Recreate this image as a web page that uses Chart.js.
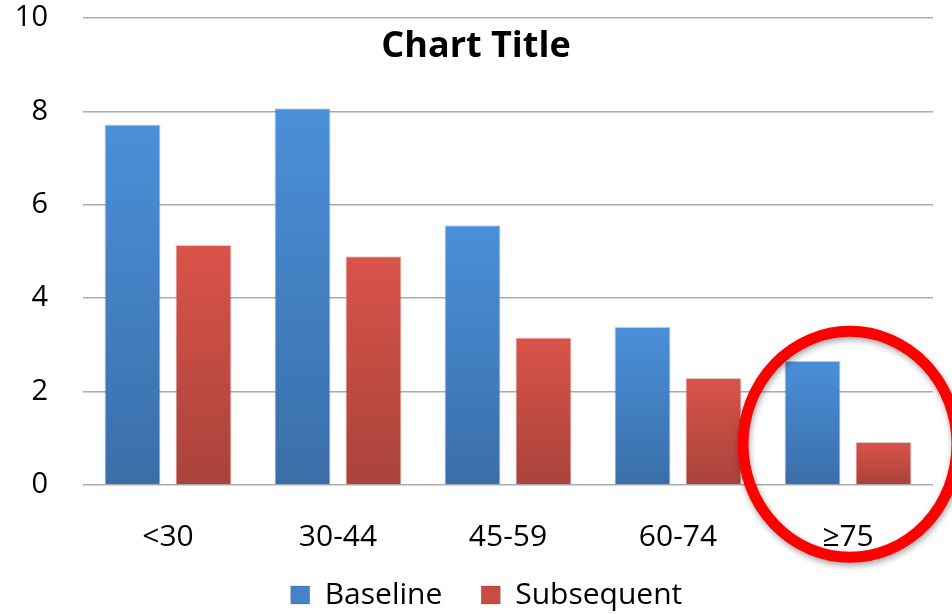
<!DOCTYPE html>
<html>
<head>
<meta charset="utf-8">
<title>Chart Title</title>
<script src="https://cdn.jsdelivr.net/npm/chart.js@4/dist/chart.umd.min.js"></script>
<style>
  html, body { margin: 0; padding: 0; background: #ffffff; }
  #wrap { width: 952px; height: 614px; }
</style>
</head>
<body>
<div id="wrap"><canvas id="chart" width="952" height="614"></canvas></div>
<script>
// Age groups and the two series
const categories = ['<30', '30-44', '45-59', '60-74', '≥75'];
const baselineValues = [7.72, 8.07, 5.56, 3.39, 2.66];
const subsequentValues = [5.14, 4.90, 3.16, 2.29, 0.92];
const yTickValues = [0, 2, 4, 6, 8, 10];
const seriesNames = ['Baseline', 'Subsequent'];
const chartTitle = 'Chart Title';
const highlightIndex = 4;      // the group that gets circled
const highlightCenterValue = 0.87;

const FONT = '"Open Sans", "Liberation Sans", sans-serif';

// vertical gradient from the top of each bar down to the zero line
function barGradient(topColor, bottomColor) {
  return (ctx) => {
    const chart = ctx.chart;
    const ys = chart.scales && chart.scales.y;
    if (!ys || ctx.type !== 'data' || !ctx.parsed) return topColor;
    const y0 = ys.getPixelForValue(ctx.parsed.y);
    const y1 = ys.getPixelForValue(0);
    if (!isFinite(y0) || !isFinite(y1) || y0 === y1) return topColor;
    const g = chart.ctx.createLinearGradient(0, y0, 0, y1);
    g.addColorStop(0, topColor);
    g.addColorStop(1, bottomColor);
    return g;
  };
}

// title drawn over the plot area
const overlayTitle = {
  id: 'overlayTitle',
  afterDraw(chart) {
    const c = chart.ctx;
    c.save();
    c.font = 'bold 36px ' + FONT;
    c.fillStyle = '#000000';
    c.textAlign = 'center';
    c.textBaseline = 'alphabetic';
    c.fillText(chartTitle, chart.width / 2, 57);
    c.restore();
  }
};

// red ring around the highlighted group
const highlightRing = {
  id: 'highlightRing',
  afterDraw(chart) {
    const xs = chart.scales.x, ys = chart.scales.y;
    const cx = xs.getPixelForValue(highlightIndex) + 2;
    const cy = ys.getPixelForValue(highlightCenterValue);
    const c = chart.ctx;
    c.save();
    c.beginPath();
    c.ellipse(cx, cy, 107, 113, 0, 0, Math.PI * 2);
    c.lineWidth = 11;
    c.strokeStyle = '#ff0000';
    c.shadowColor = 'rgba(0,0,0,0.35)';
    c.shadowBlur = 6;
    c.shadowOffsetX = 1;
    c.shadowOffsetY = 3;
    c.stroke();
    c.restore();
  }
};

// let tick labels run past the scale box instead of being clipped
const noLabelClip = () => undefined;

new Chart(document.getElementById('chart'), {
  type: 'bar',
  data: {
    labels: categories,
    datasets: [
      {
        label: seriesNames[0],
        data: baselineValues,
        backgroundColor: barGradient('#4a90d8', '#3a6ea9'),
        borderColor: 'rgba(60,90,130,0.25)',
        borderWidth: 1,
        borderSkipped: 'bottom'
      },
      {
        label: seriesNames[1],
        data: subsequentValues,
        backgroundColor: barGradient('#d9534a', '#a9433b'),
        borderColor: 'rgba(130,60,55,0.25)',
        borderWidth: 1,
        borderSkipped: 'bottom'
      }
    ]
  },
  options: {
    responsive: false,
    animation: false,
    devicePixelRatio: 1,
    categoryPercentage: 0.835,
    barPercentage: 0.79,
    layout: { padding: { top: 18, right: 19, left: 40, bottom: -6 } },
    plugins: {
      title: { display: false },
      tooltip: { enabled: false },
      legend: {
        position: 'bottom',
        labels: {
          font: { family: FONT, size: 30 },
          color: '#000000',
          boxWidth: 19,
          boxHeight: 18,
          padding: 39,
          generateLabels(chart) {
            const fills = ['#4383c8', '#c94c43'];
            return chart.data.datasets.map((ds, i) => ({
              text: ds.label,
              fillStyle: fills[i],
              strokeStyle: 'rgba(0,0,0,0.15)',
              lineWidth: 1,
              fontColor: '#000000',
              hidden: false,
              datasetIndex: i
            }));
          }
        }
      }
    },
    scales: {
      x: {
        grid: { display: false },
        border: { display: false },
        ticks: {
          font: { family: FONT, size: 30 },
          color: '#000000',
          padding: 26
        },
        afterFit(s) {
          s.height = 56;
          s._computeLabelArea = noLabelClip;
        }
      },
      y: {
        min: 0,
        max: 10,
        afterBuildTicks(s) { s.ticks = yTickValues.map(v => ({ value: v })); },
        grid: { color: '#acacac', lineWidth: 1.5, drawTicks: false },
        border: { display: false },
        ticks: {
          font: { family: FONT, size: 29 },
          color: '#000000',
          padding: 35
        },
        afterFit(s) {
          s.width = 43;
          s.paddingTop = 0;
          s.paddingBottom = 0;
          s._computeLabelArea = noLabelClip;
        }
      }
    }
  },
  plugins: [overlayTitle, highlightRing]
});
</script>
</body>
</html>
